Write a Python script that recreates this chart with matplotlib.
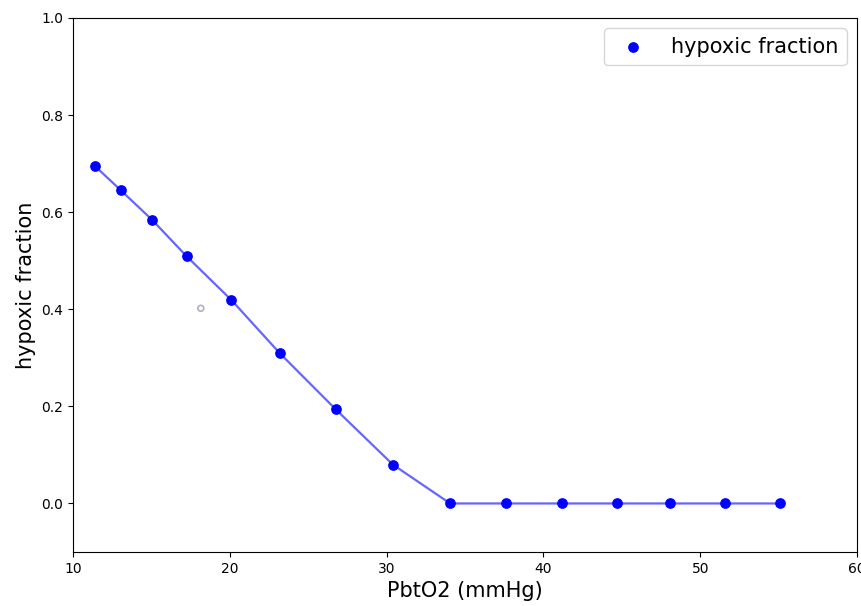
import numpy as np
import matplotlib.pyplot as plt

pbto2 = [11.4, 13.05, 15.05, 17.25, 20.1, 23.2, 26.75, 30.4, 34.05, 37.6, 41.2, 44.7, 48.05, 51.55, 55.1]
hypoxic = [0.695, 0.645, 0.584, 0.509, 0.419, 0.309, 0.194, 0.080, 0.0, 0.0, 0.0, 0.0, 0.0, 0.0, 0.0]
marker_x = [18.15]
marker_y = [0.402]

fig = plt.figure(figsize=(8.61, 6.06), dpi=100)
ax = fig.add_axes([0.0848, 0.0891, 0.9106, 0.8812])
ax.plot(pbto2, hypoxic, color='blue', alpha=0.6, lw=1.6)
ax.scatter(pbto2, hypoxic, color='blue', s=45, zorder=3, label='hypoxic fraction')
ax.scatter(marker_x, marker_y, facecolors='none', edgecolors='#b0b0c0', s=18, lw=1.2)
ax.set_xlim(10, 60)
ax.set_ylim(-0.1, 1.0)
ax.set_xlabel('PbtO2 (mmHg)', fontsize=15)
ax.set_ylabel('hypoxic fraction', fontsize=15)
ax.legend(loc='upper right', fontsize=15)
fig.savefig('out.png', dpi=100)
